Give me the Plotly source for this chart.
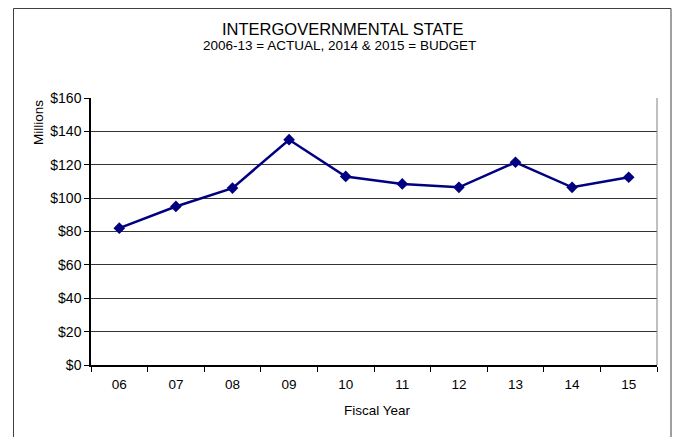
import plotly.graph_objects as go

years = ["06", "07", "08", "09", "10", "11", "12", "13", "14", "15"]
values = [82, 95, 106, 135, 113, 108.5, 106.5, 121.5, 106.5, 112.5]
y_ticks = [0, 20, 40, 60, 80, 100, 120, 140, 160]
y_labels = ["$" + str(v) for v in y_ticks]

W, H = 676, 437
L, R, T, B = 91, 657, 98, 365
pw, ph = R - L, B - T

def px(x):
    return (x - L) / pw

def py(y):
    return (B - y) / ph

fig = go.Figure()
fig.add_trace(go.Scatter(
    x=years, y=values, mode="lines+markers",
    line=dict(color="#000080", width=2.5),
    marker=dict(symbol="diamond", size=9, color="#000080"),
    hoverinfo="skip", showlegend=False,
))

fig.update_layout(
    width=W, height=H,
    margin=dict(l=L, r=W - R, t=T, b=H - B),
    paper_bgcolor="white", plot_bgcolor="white",
    font=dict(family="Liberation Sans, Arial, sans-serif", size=13, color="black"),
    xaxis=dict(
        type="category", range=[-0.5, 9.5], tickson="boundaries",
        ticks="outside", ticklen=5, tickcolor="black", tickwidth=1,
        showline=True, linecolor="black", linewidth=1.5,
        showgrid=False, tickfont=dict(size=13.5), fixedrange=True,
        ticklabelstandoff=6,
    ),
    yaxis=dict(
        range=[0, 160], tickvals=y_ticks, ticktext=y_labels,
        ticks="outside", ticklen=5, tickcolor="black", tickwidth=1,
        showline=True, linecolor="black", linewidth=1.5,
        showgrid=True, gridcolor="#333333", gridwidth=1,
        zeroline=False, tickfont=dict(size=14), fixedrange=True,
        ticklabelstandoff=0,
    ),
    shapes=[
        # outer chart frame
        dict(type="rect", xref="paper", yref="paper",
             x0=px(13.5), x1=px(671), y0=py(445), y1=py(8.5),
             line=dict(color="#404040", width=1), fillcolor="rgba(0,0,0,0)", layer="below"),
        # right plot border
        dict(type="line", xref="paper", yref="paper",
             x0=1, x1=1, y0=0, y1=1, line=dict(color="#808080", width=1)),
    ],
    annotations=[
        dict(text="INTERGOVERNMENTAL STATE", xref="paper", yref="paper",
             x=px(342), y=py(29), xanchor="center", yanchor="middle",
             showarrow=False, font=dict(size=16.5)),
        dict(text="2006-13 = ACTUAL, 2014 & 2015 = BUDGET", xref="paper", yref="paper",
             x=px(339), y=py(46), xanchor="center", yanchor="middle",
             showarrow=False, font=dict(size=13.5)),
        dict(text="Millions", xref="paper", yref="paper",
             x=px(38), y=py(123), xanchor="center", yanchor="middle",
             textangle=-90, showarrow=False, font=dict(size=13.5)),
        dict(text="Fiscal Year", xref="paper", yref="paper",
             x=px(377), y=py(410), xanchor="center", yanchor="middle",
             showarrow=False, font=dict(size=13.5)),
    ],
)

fig.write_html("out.html")
